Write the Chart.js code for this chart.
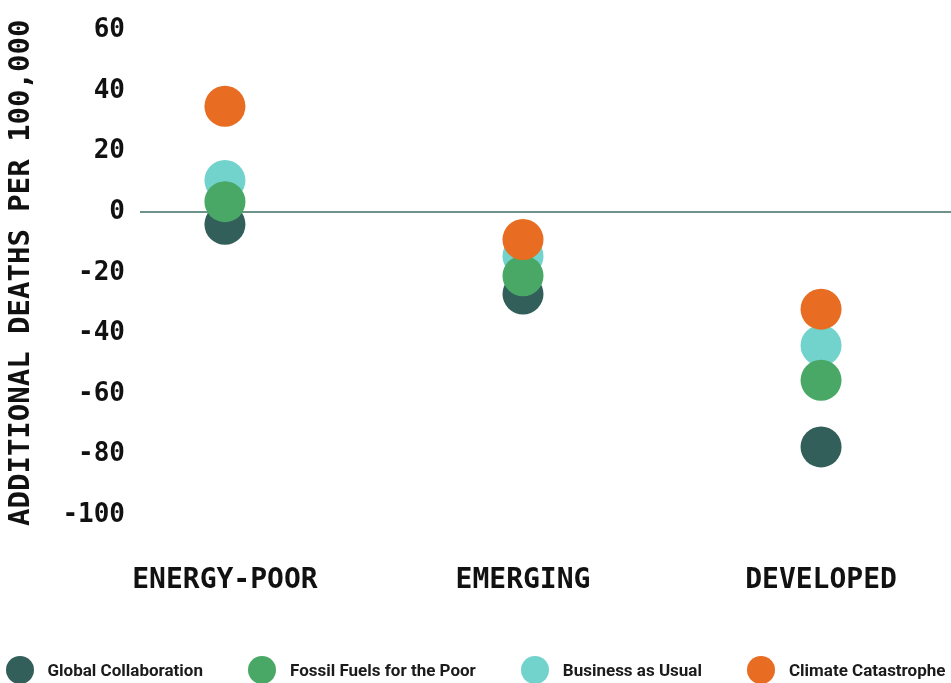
<!DOCTYPE html>
<html>
<head>
<meta charset="utf-8">
<script src="https://cdn.jsdelivr.net/npm/chart.js@4/dist/chart.umd.min.js"></script>
<style>
  html, body { margin:0; padding:0; background:#fff; overflow:hidden; }
  #wrap { position:relative; width:951px; height:683px; }
  #legend {
    position:absolute; left:0; right:0; top:656px;
    display:flex; justify-content:center; gap:45px;
    font:bold 17px Roboto, 'Liberation Sans', sans-serif; color:#1b1b1b;
    line-height:28px;
  }
  #legend .item { display:flex; align-items:center; gap:14px; }
  #legend .dot { width:28px; height:28px; border-radius:50%; flex:none; }
</style>
</head>
<body>
<div id="wrap">
  <canvas id="deaths"></canvas>
  <div id="legend"></div>
</div>
<script>
/* Additional deaths per 100,000 by country group, one dot per scenario. */
const GROUPS = ["ENERGY-POOR", "EMERGING", "DEVELOPED"];
const SCENARIOS = ["Global Collaboration", "Fossil Fuels for the Poor", "Business as Usual", "Climate Catastrophe"];
const COLORS = ["#335f5b", "#4aa866", "#72d3cc", "#e86c22"];
// draw order: higher number sits underneath
const LAYER = [4, 2, 3, 1];

const GLOBAL_COLLAB = [-4, -27, -77.5];
const FOSSIL_POOR   = [3.5, -21, -55.5];
const BUSINESS      = [10.5, -14.5, -44];
const CATASTROPHE   = [35, -9, -32];
const SERIES = [GLOBAL_COLLAB, FOSSIL_POOR, BUSINESS, CATASTROPHE];

const Y_TICKS = [60, 40, 20, 0, -20, -40, -60, -80, -100];

const MONO = "'DejaVu Sans Mono', 'Liberation Mono', monospace";

// legend row under the plot
const legendEl = document.getElementById("legend");
SCENARIOS.forEach((name, i) => {
  const item = document.createElement("div");
  item.className = "item";
  const dot = document.createElement("span");
  dot.className = "dot"; dot.style.background = COLORS[i];
  const txt = document.createElement("span");
  txt.textContent = name;
  item.appendChild(dot); item.appendChild(txt);
  legendEl.appendChild(item);
});

const datasets = SCENARIOS.map((name, i) => ({
  label: name,
  data: SERIES[i].map((v, gi) => ({ x: gi, y: v })),
  backgroundColor: COLORS[i],
  borderWidth: 0,
  pointRadius: 20.5,
  pointHoverRadius: 20.5,
  order: LAYER[i],
  clip: false
}));

new Chart(document.getElementById("deaths"), {
  type: "scatter",
  data: { datasets },
  options: {
    responsive: true,
    maintainAspectRatio: false,
    animation: false,
    events: [],
    layout: { autoPadding: false, padding: { top: 30, right: 0, bottom: 0, left: 0 } },
    plugins: {
      tooltip: { enabled: false },
      legend: { display: false }
    },
    scales: {
      x: {
        type: "linear",
        min: -0.285,
        max: 2.436,
        afterBuildTicks(scale){ scale.ticks = GROUPS.map((_, i) => ({ value: i })); },
        // room below the plot for the group names and the legend row
        afterFit(scale){ scale.height = 168; scale.paddingLeft = 0; scale.paddingRight = 0; },
        grid: { display: false },
        border: { display: false },
        ticks: {
          padding: 41,
          autoSkip: false,
          maxRotation: 0,
          color: "#111",
          font: { family: MONO, size: 28, weight: "bold" },
          callback: v => GROUPS[v] || ""
        }
      },
      y: {
        min: -100,
        max: 60,
        afterBuildTicks(scale){ scale.ticks = Y_TICKS.map(v => ({ value: v })); },
        afterFit(scale){ scale.width = 140; },
        grid: {
          drawTicks: false,
          lineWidth: 2,
          color: ctx => (ctx.tick && ctx.tick.value === 0) ? "#6d928a" : "rgba(0,0,0,0)"
        },
        border: { display: false },
        ticks: {
          padding: 15,
          color: "#111",
          font: { family: MONO, size: 26, weight: "bold" }
        },
        title: {
          display: true,
          text: "ADDITIONAL DEATHS PER 100,000",
          color: "#111",
          padding: { top: 4, bottom: 4 },
          font: { family: MONO, size: 29, weight: "bold" }
        }
      }
    }
  }
});
</script>
</body>
</html>
